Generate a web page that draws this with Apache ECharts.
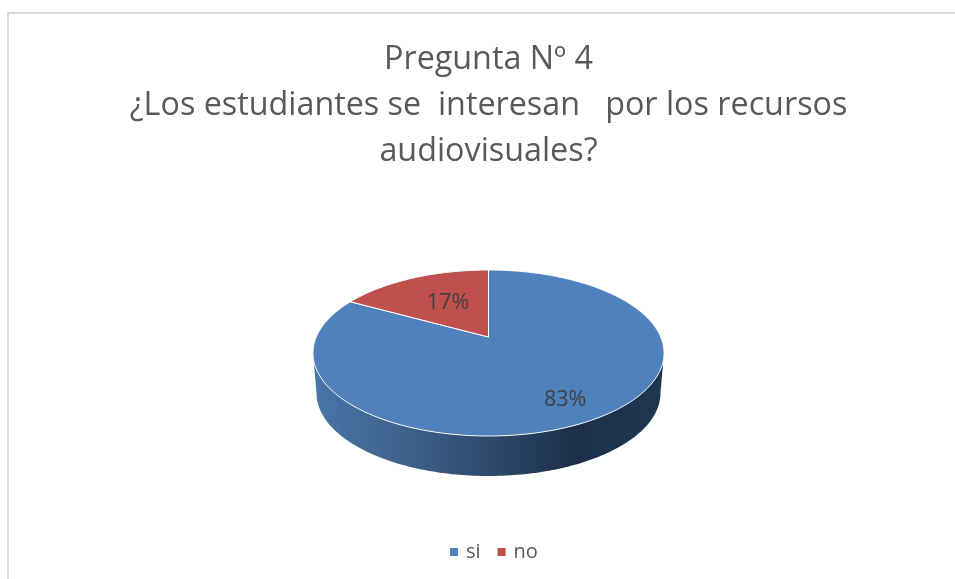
<!DOCTYPE html>
<html>
<head>
<meta charset="utf-8">
<style>html,body{margin:0;padding:0;background:#fff;overflow:hidden}#c{width:955px;height:579px}</style>
<script src="https://cdn.jsdelivr.net/npm/echarts@6/dist/echarts.min.js"></script>
</head>
<body>
<div id="c"></div>
<script>
const titleLines = ["Pregunta Nº 4", "¿Los estudiantes se  interesan   por los recursos", "audiovisuales?"];
const categories = ["si", "no"];
const values = [83, 17];
const colors = ["#4f81bd", "#c0504d"];
const labelRadius = [0.785, 0.5];
const labelNudge = [[-2.5, 1], [0, -2]];

const total = values.reduce((a, b) => a + b, 0);
const cx = 488.5, apexY = 337, A = 172.2, B = 79.9, K = 0.193, depth = 40, bottomScale = 0.98;

function project(clockDeg, r) {
  const t = clockDeg * Math.PI / 180;
  const X = Math.sin(t) * r, Y = Math.cos(t) * r, w = 1 + K * Y;
  return [cx + A * X / w, apexY - B * Y / w];
}
function lower(p) { return [cx + (p[0] - cx) * bottomScale, p[1] + depth]; }

function makeRender(index) {
  return function (params, api) {
    const v = api.value(0);
    const before = values.slice(0, index).reduce((a, b) => a + b, 0);
    const start = before / total * 360, end = (before + v) / total * 360;
    const children = [];
    const s0 = Math.max(start, 101), s1 = Math.min(end, 259);
    if (s1 > s0) {
      const top = [], bot = [];
      for (let a = s0; a <= s1; a += 1) { const p = project(a, 1); top.push(p); bot.push(lower(p)); }
      children.push({
        type: "polygon",
        shape: { points: top.concat(bot.reverse()) },
        style: {
          fill: new echarts.graphic.LinearGradient(0, 0, 1, 0, [
            { offset: 0, color: "#4a76a9" }, { offset: 0.25, color: "#3e618c" },
            { offset: 0.53, color: "#2c4869" }, { offset: 0.73, color: "#1c304b" },
            { offset: 1, color: "#1f3550" }
          ])
        }
      });
    }
    const pts = [[cx, apexY]];
    for (let a = start; a < end; a += 0.5) pts.push(project(a, 1));
    pts.push(project(end, 1));
    children.push({
      type: "polygon",
      shape: { points: pts },
      style: { fill: colors[index], stroke: "#ffffff", lineWidth: 1 }
    });
    const lp = project((start + end) / 2, labelRadius[index]);
    children.push({
      type: "text",
      x: lp[0] + labelNudge[index][0], y: lp[1] + labelNudge[index][1],
      style: {
        text: Math.round(v / total * 100) + "%",
        fill: "#404040",
        font: '21.5px "Open Sans"',
        align: "center",
        verticalAlign: "middle"
      }
    });
    return { type: "group", children };
  };
}

const chart = echarts.init(document.getElementById("c"), null, { renderer: "canvas" });
chart.setOption({
  animation: false,
  backgroundColor: "#ffffff",
  graphic: [{
    type: "polyline",
    silent: true,
    shape: { points: [[8, 579], [8, 13], [955, 13]] },
    style: { stroke: "#d9d9d9", lineWidth: 2, fill: null }
  }],
  title: {
    text: titleLines.join("\n"),
    left: 488.5,
    top: 37,
    padding: 0,
    textAlign: "center",
    textStyle: { fontFamily: "Open Sans", fontSize: 32.3, fontWeight: "normal", color: "#595959", lineHeight: 46 }
  },
  legend: {
    data: categories,
    top: 542,
    left: 450,
    padding: 0,
    icon: "rect",
    itemWidth: 8,
    itemHeight: 8,
    itemGap: 17,
    textStyle: { fontFamily: "Open Sans", fontSize: 20, color: "#595959", padding: [0, 0, 0, 3] }
  },
  series: categories.map((name, i) => ({
    type: "custom",
    name,
    coordinateSystem: "none",
    itemStyle: { color: colors[i] },
    renderItem: makeRender(i),
    data: [[values[i]]]
  }))
});
</script>
</body>
</html>
